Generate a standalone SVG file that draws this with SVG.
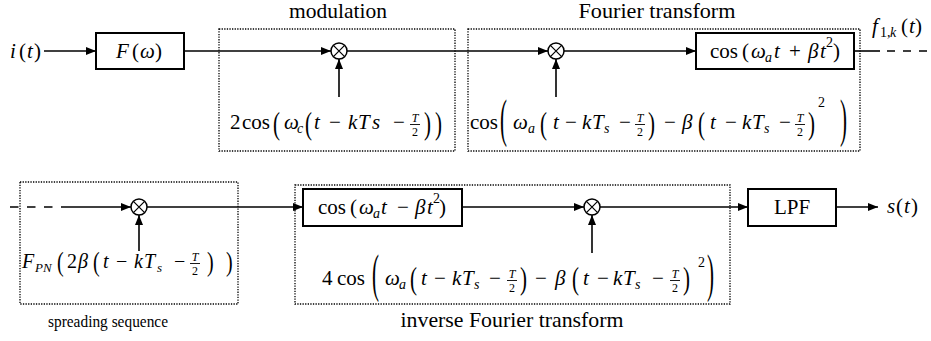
<svg xmlns="http://www.w3.org/2000/svg" width="931" height="341" viewBox="0 0 931 341">
<defs>
<marker id="ah" markerUnits="userSpaceOnUse" markerWidth="11" markerHeight="8" refX="10" refY="4" orient="auto">
<path d="M0,0 L10,4 L0,8 z" fill="#000"/>
</marker>
<g id="mulsym">
<circle r="8" fill="#fff" stroke="#000" stroke-width="1.5"/>
<path d="M-5.6,-5.6 L5.6,5.6 M5.6,-5.6 L-5.6,5.6" stroke="#000" stroke-width="1.2"/>
</g>
</defs>

<g id="modulation">
<rect x="219" y="29" width="236" height="122" fill="none" stroke="#000" stroke-width="1.3" stroke-dasharray="1.3 1.3"/>
<text font-family="Liberation Serif" font-size="21" text-anchor="middle" x="338" y="18" textLength="98" lengthAdjust="spacingAndGlyphs">modulation</text>
</g>
<g id="fourier">
<rect x="468" y="29" width="392" height="122" fill="none" stroke="#000" stroke-width="1.3" stroke-dasharray="1.3 1.3"/>
<text font-family="Liberation Serif" font-size="21" text-anchor="middle" x="657" y="18" textLength="157" lengthAdjust="spacingAndGlyphs">Fourier transform</text>
</g>
<g id="spreading">
<rect x="20" y="182" width="218" height="122" fill="none" stroke="#000" stroke-width="1.3" stroke-dasharray="1.3 1.3"/>
<text font-family="Liberation Serif" font-size="17" text-anchor="middle" x="108" y="327" textLength="120" lengthAdjust="spacingAndGlyphs">spreading sequence</text>
</g>
<g id="inverse">
<rect x="295" y="185" width="435" height="119" fill="none" stroke="#000" stroke-width="1.3" stroke-dasharray="1.3 1.3"/>
<text font-family="Liberation Serif" font-size="21" text-anchor="middle" x="512" y="327" textLength="223" lengthAdjust="spacingAndGlyphs">inverse Fourier transform</text>
</g>

<g id="connectors" fill="none" stroke="#000" stroke-width="1.6">
<path d="M44,51 H96" marker-end="url(#ah)"/>
<path d="M184,51 H331" marker-end="url(#ah)"/>
<path d="M347,51 H548" marker-end="url(#ah)"/>
<path d="M564,51 H696" marker-end="url(#ah)"/>
<path d="M854,51 H880"/>
<path d="M887,51 H931" stroke-dasharray="8 8"/>
<path d="M339,97 V59" marker-end="url(#ah)"/>
<path d="M556,97 V59" marker-end="url(#ah)"/>
<path d="M10,207 H62" stroke-dasharray="8.5 8.5"/>
<path d="M62,207 H131" marker-end="url(#ah)"/>
<path d="M147,207 H303" marker-end="url(#ah)"/>
<path d="M462,207 H584" marker-end="url(#ah)"/>
<path d="M600,207 H748" marker-end="url(#ah)"/>
<path d="M836,207 H878" marker-end="url(#ah)"/>
<path d="M139,251 V215" marker-end="url(#ah)"/>
<path d="M592,253 V215" marker-end="url(#ah)"/>
</g>

<g id="input">
<text font-family="Liberation Serif" font-size="21"><tspan font-style="italic" x="10" y="58">i</tspan><tspan x="19">(</tspan><tspan font-style="italic" x="27">t</tspan><tspan x="34">)</tspan></text>
</g>

<g id="filter">
<rect x="96" y="33" width="88" height="36" fill="#fff" stroke="#000" stroke-width="2"/>
<text font-family="Liberation Serif" font-size="21"><tspan font-style="italic" x="116" y="58">F</tspan><tspan x="132">(</tspan><tspan font-style="italic" x="140">ω</tspan><tspan x="155">)</tspan></text>
</g>

<g id="mixer1">
<use href="#mulsym" x="339" y="51"/>
<text font-family="Liberation Serif" font-size="21"><tspan x="230" y="129">2</tspan><tspan x="242">cos</tspan><tspan font-style="italic" x="284">ω</tspan><tspan font-style="italic" font-size="14" x="297" y="133">c</tspan><tspan font-style="italic" x="314" y="129">t</tspan><tspan x="329">−</tspan><tspan font-style="italic" x="348">k</tspan><tspan font-style="italic" x="358">T</tspan><tspan font-style="italic" x="372">s</tspan><tspan x="393">−</tspan></text>
<text font-family="Liberation Serif" font-size="12" font-style="italic" text-anchor="middle" x="415" y="121.5">T</text>
<line x1="410" y1="124.5" x2="420" y2="124.5" stroke="#000" stroke-width="0.9"/>
<text font-family="Liberation Serif" font-size="12" text-anchor="middle" x="415" y="135.5">2</text>
<text font-family="Liberation Serif" font-size="21" transform="translate(273,126.5) scale(1,1.5)" y="5.25">(</text>
<text font-family="Liberation Serif" font-size="21" transform="translate(305,126.5) scale(1,1.5)" y="5.25">(</text>
<text font-family="Liberation Serif" font-size="21" transform="translate(424,126.5) scale(1,1.5)" y="5.25">)</text>
<text font-family="Liberation Serif" font-size="21" transform="translate(435,126.5) scale(1,1.5)" y="5.25">)</text>
</g>

<g id="mixer2">
<use href="#mulsym" x="556" y="51"/>
<text font-family="Liberation Serif" font-size="21"><tspan x="470" y="129">cos</tspan><tspan font-style="italic" x="513">ω</tspan><tspan font-style="italic" font-size="14" x="528" y="133">a</tspan><tspan font-style="italic" x="553" y="129">t</tspan><tspan x="565">−</tspan><tspan font-style="italic" x="582">k</tspan><tspan font-style="italic" x="592">T</tspan><tspan font-style="italic" font-size="14" x="604" y="133">s</tspan><tspan x="619" y="129">−</tspan><tspan x="664">−</tspan><tspan font-style="italic" x="682">β</tspan><tspan font-style="italic" x="710">t</tspan><tspan x="725">−</tspan><tspan font-style="italic" x="742">k</tspan><tspan font-style="italic" x="752">T</tspan><tspan font-style="italic" font-size="14" x="764" y="133">s</tspan><tspan x="779" y="129">−</tspan><tspan font-size="14" x="818" y="107">2</tspan></text>
<text font-family="Liberation Serif" font-size="12" font-style="italic" text-anchor="middle" x="640" y="121.5">T</text>
<line x1="635" y1="124.5" x2="645" y2="124.5" stroke="#000" stroke-width="0.9"/>
<text font-family="Liberation Serif" font-size="12" text-anchor="middle" x="640" y="135.5">2</text>
<text font-family="Liberation Serif" font-size="12" font-style="italic" text-anchor="middle" x="800" y="121.5">T</text>
<line x1="795" y1="124.5" x2="805" y2="124.5" stroke="#000" stroke-width="0.9"/>
<text font-family="Liberation Serif" font-size="12" text-anchor="middle" x="800" y="135.5">2</text>
<text font-family="Liberation Serif" font-size="21" transform="translate(500,122.5) scale(1,2.5)" y="5.25">(</text>
<text font-family="Liberation Serif" font-size="21" transform="translate(540,126.5) scale(1,1.5)" y="5.25">(</text>
<text font-family="Liberation Serif" font-size="21" transform="translate(648,126.5) scale(1,1.5)" y="5.25">)</text>
<text font-family="Liberation Serif" font-size="21" transform="translate(698,126.5) scale(1,1.5)" y="5.25">(</text>
<text font-family="Liberation Serif" font-size="21" transform="translate(808,126.5) scale(1,1.5)" y="5.25">)</text>
<text font-family="Liberation Serif" font-size="21" transform="translate(840,122.5) scale(1,2.5)" y="5.25">)</text>
</g>

<g id="chirp1">
<rect x="696" y="33" width="158" height="36" fill="#fff" stroke="#000" stroke-width="2"/>
<text font-family="Liberation Serif" font-size="21"><tspan x="710" y="58">cos</tspan><tspan x="742">(</tspan><tspan font-style="italic" x="751">ω</tspan><tspan font-style="italic" font-size="14" x="765" y="62">a</tspan><tspan font-style="italic" x="774" y="58">t</tspan><tspan x="789">+</tspan><tspan font-style="italic" x="808">β</tspan><tspan font-style="italic" x="820">t</tspan><tspan font-size="14" x="826" y="47">2</tspan><tspan x="833" y="58">)</tspan></text>
</g>

<g id="f1k">
<text font-family="Liberation Serif" font-size="21"><tspan font-style="italic" x="872" y="33">f</tspan><tspan font-size="14" x="880" y="37">1,</tspan><tspan font-style="italic" font-size="14" x="890" y="37">k</tspan><tspan x="901" y="33">(</tspan><tspan font-style="italic" x="909">t</tspan><tspan x="915">)</tspan></text>
</g>

<g id="mixer3">
<use href="#mulsym" x="139" y="207"/>
<text font-family="Liberation Serif" font-size="20"><tspan font-style="italic" x="22" y="268">F</tspan><tspan font-style="italic" font-size="13" x="35" y="272">PN</tspan><tspan x="67" y="268">2</tspan><tspan font-style="italic" x="78">β</tspan><tspan font-style="italic" x="103">t</tspan><tspan x="116">−</tspan><tspan font-style="italic" x="134">k</tspan><tspan font-style="italic" x="144">T</tspan><tspan font-style="italic" font-size="13" x="157" y="272">s</tspan><tspan x="174" y="268">−</tspan></text>
<text font-family="Liberation Serif" font-size="12" font-style="italic" text-anchor="middle" x="195" y="260.5">T</text>
<line x1="190" y1="263.5" x2="200" y2="263.5" stroke="#000" stroke-width="0.9"/>
<text font-family="Liberation Serif" font-size="12" text-anchor="middle" x="195" y="274.5">2</text>
<text font-family="Liberation Serif" font-size="20" transform="translate(57,264) scale(1,1.4)" y="5">(</text>
<text font-family="Liberation Serif" font-size="20" transform="translate(93,264) scale(1,1.4)" y="5">(</text>
<text font-family="Liberation Serif" font-size="20" transform="translate(207,264) scale(1,1.4)" y="5">)</text>
<text font-family="Liberation Serif" font-size="20" transform="translate(226,264) scale(1,1.4)" y="5">)</text>
</g>

<g id="chirp2">
<rect x="303" y="189" width="159" height="37" fill="#fff" stroke="#000" stroke-width="2"/>
<text font-family="Liberation Serif" font-size="21"><tspan x="318" y="214">cos</tspan><tspan x="350">(</tspan><tspan font-style="italic" x="359">ω</tspan><tspan font-style="italic" font-size="14" x="373" y="218">a</tspan><tspan font-style="italic" x="381" y="214">t</tspan><tspan x="397">−</tspan><tspan font-style="italic" x="415">β</tspan><tspan font-style="italic" x="427">t</tspan><tspan font-size="14" x="433" y="203">2</tspan><tspan x="439" y="214">)</tspan></text>
</g>

<g id="mixer4">
<use href="#mulsym" x="592" y="207"/>
<text font-family="Liberation Serif" font-size="21"><tspan x="322" y="285">4</tspan><tspan x="337">cos</tspan><tspan font-style="italic" x="385">ω</tspan><tspan font-style="italic" font-size="14" x="399" y="289">a</tspan><tspan font-style="italic" x="421" y="285">t</tspan><tspan x="434">−</tspan><tspan font-style="italic" x="452">k</tspan><tspan font-style="italic" x="462">T</tspan><tspan font-style="italic" font-size="14" x="474" y="289">s</tspan><tspan x="489" y="285">−</tspan><tspan x="535">−</tspan><tspan font-style="italic" x="555">β</tspan><tspan font-style="italic" x="583">t</tspan><tspan x="597">−</tspan><tspan font-style="italic" x="613">k</tspan><tspan font-style="italic" x="623">T</tspan><tspan font-style="italic" font-size="14" x="635" y="289">s</tspan><tspan x="652" y="285">−</tspan><tspan font-size="14" x="698" y="267">2</tspan></text>
<text font-family="Liberation Serif" font-size="12" font-style="italic" text-anchor="middle" x="512" y="277.5">T</text>
<line x1="507" y1="280.5" x2="517" y2="280.5" stroke="#000" stroke-width="0.9"/>
<text font-family="Liberation Serif" font-size="12" text-anchor="middle" x="512" y="291.5">2</text>
<text font-family="Liberation Serif" font-size="12" font-style="italic" text-anchor="middle" x="675" y="277.5">T</text>
<line x1="670" y1="280.5" x2="680" y2="280.5" stroke="#000" stroke-width="0.9"/>
<text font-family="Liberation Serif" font-size="12" text-anchor="middle" x="675" y="291.5">2</text>
<text font-family="Liberation Serif" font-size="21" transform="translate(372,277.5) scale(1,2.5)" y="5.25">(</text>
<text font-family="Liberation Serif" font-size="21" transform="translate(410,281.5) scale(1,1.5)" y="5.25">(</text>
<text font-family="Liberation Serif" font-size="21" transform="translate(520,281.5) scale(1,1.5)" y="5.25">)</text>
<text font-family="Liberation Serif" font-size="21" transform="translate(572,281.5) scale(1,1.5)" y="5.25">(</text>
<text font-family="Liberation Serif" font-size="21" transform="translate(683,281.5) scale(1,1.5)" y="5.25">)</text>
<text font-family="Liberation Serif" font-size="21" transform="translate(707,277.5) scale(1,2.5)" y="5.25">)</text>
</g>

<g id="lpf">
<rect x="748" y="189" width="88" height="37" fill="#fff" stroke="#000" stroke-width="2"/>
<text font-family="Liberation Serif" font-size="21" text-anchor="middle" x="792" y="214">LPF</text>
</g>

<g id="output">
<text font-family="Liberation Serif" font-size="21"><tspan font-style="italic" x="887" y="213">s</tspan><tspan x="896">(</tspan><tspan font-style="italic" x="904">t</tspan><tspan x="911">)</tspan></text>
</g>
</svg>
